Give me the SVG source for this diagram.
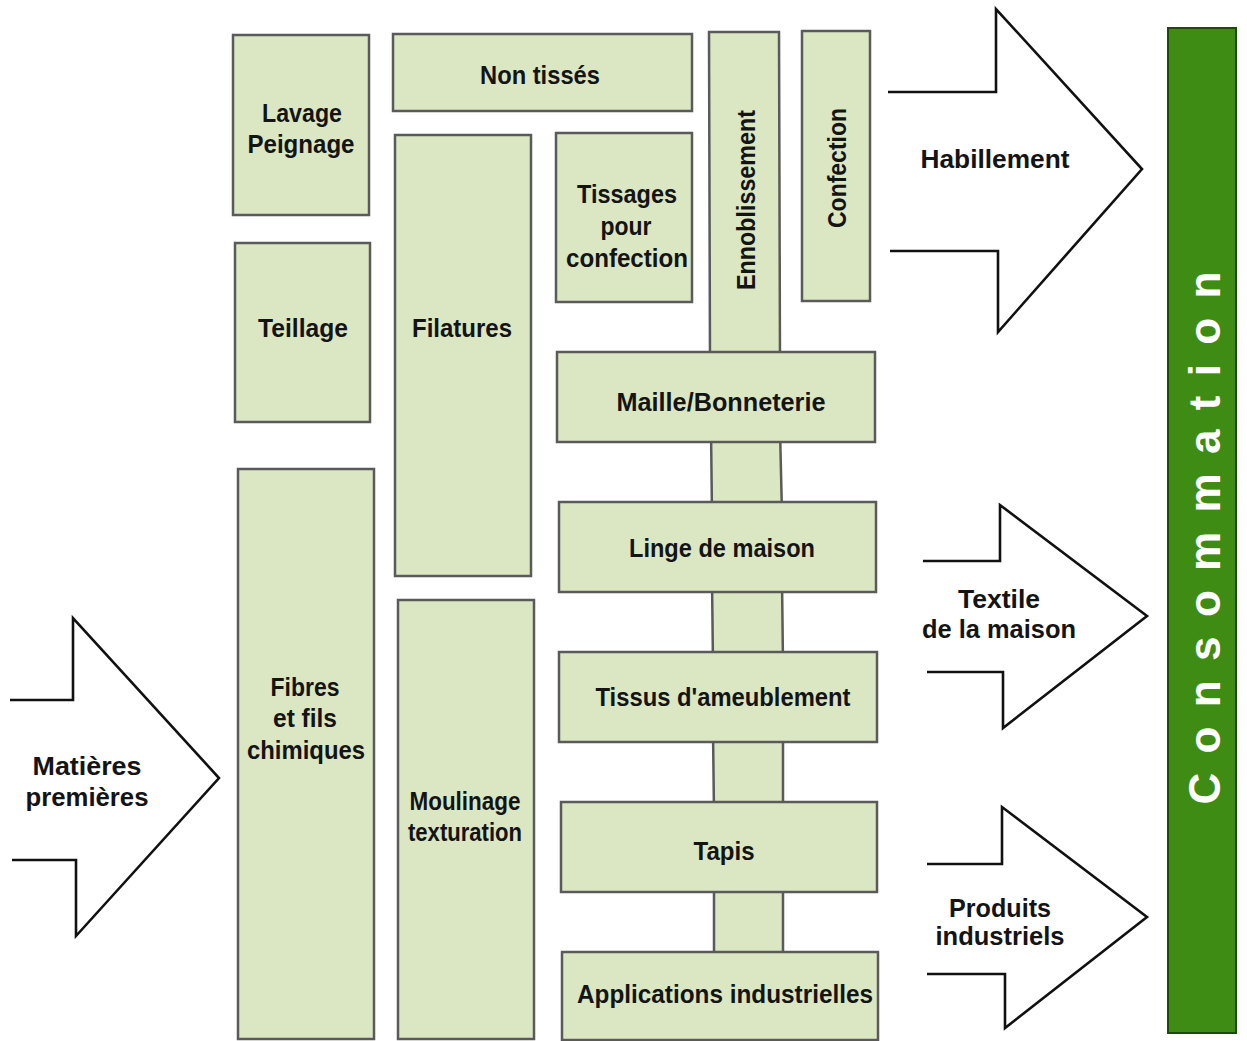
<svg xmlns="http://www.w3.org/2000/svg" width="1247" height="1041" viewBox="0 0 1247 1041">
<style>
.box{fill:#dbe7c2;stroke:#5a5a5a;stroke-width:2.5}
.arrow{fill:none;stroke:#111;stroke-width:2.6;stroke-linejoin:miter}
.t{font-family:"Liberation Sans",Arial,sans-serif;font-weight:bold;font-size:26px;fill:#141414;text-anchor:middle}
.c{font-family:"Liberation Sans",Arial,sans-serif;font-weight:bold;font-size:44px;fill:#ffffff;text-anchor:middle}
</style>
<rect width="1247" height="1041" fill="#ffffff"/>

<g id="connectors">
  <polygon class="box" points="711,430 780,430 782,514 712,514"/>
  <polygon class="box" points="712,580 782,580 783,664 713,664"/>
  <polygon class="box" points="713,730 783,730 783,814 714,814"/>
  <polygon class="box" points="714,880 783,880 783,964 714,964"/>
</g>

<g id="lavage-peignage">
  <rect class="box" x="233" y="35" width="136" height="180"/>
  <text class="t" x="302" y="122" textLength="80" lengthAdjust="spacingAndGlyphs">Lavage</text>
  <text class="t" x="301" y="153" textLength="107" lengthAdjust="spacingAndGlyphs">Peignage</text>
</g>
<g id="teillage">
  <rect class="box" x="235" y="243" width="135" height="179"/>
  <text class="t" x="303" y="337" textLength="90" lengthAdjust="spacingAndGlyphs">Teillage</text>
</g>
<g id="fibres">
  <rect class="box" x="238" y="469" width="136" height="570"/>
  <text class="t" x="305" y="696" textLength="69" lengthAdjust="spacingAndGlyphs">Fibres</text>
  <text class="t" x="305" y="727" textLength="64" lengthAdjust="spacingAndGlyphs">et fils</text>
  <text class="t" x="306" y="759" textLength="118" lengthAdjust="spacingAndGlyphs">chimiques</text>
</g>
<g id="non-tisses">
  <rect class="box" x="393" y="34" width="299" height="77"/>
  <text class="t" x="540" y="84" textLength="120" lengthAdjust="spacingAndGlyphs">Non tissés</text>
</g>
<g id="filatures">
  <rect class="box" x="395" y="135" width="136" height="441"/>
  <text class="t" x="462" y="337" textLength="100" lengthAdjust="spacingAndGlyphs">Filatures</text>
</g>
<g id="moulinage">
  <rect class="box" x="398" y="600" width="136" height="439"/>
  <text class="t" x="465" y="810" textLength="111" lengthAdjust="spacingAndGlyphs">Moulinage</text>
  <text class="t" x="465" y="841" textLength="114" lengthAdjust="spacingAndGlyphs">texturation</text>
</g>
<g id="tissages">
  <rect class="box" x="556" y="133" width="136" height="169"/>
  <text class="t" x="627" y="203" textLength="100" lengthAdjust="spacingAndGlyphs">Tissages</text>
  <text class="t" x="626" y="235" textLength="51" lengthAdjust="spacingAndGlyphs">pour</text>
  <text class="t" x="627" y="267" textLength="122" lengthAdjust="spacingAndGlyphs">confection</text>
</g>
<g id="ennoblissement">
  <polygon class="box" points="709,32 779,32 780,360 710,360"/>
  <text class="t" transform="translate(755,200) rotate(-90)" x="0" y="0" textLength="180" lengthAdjust="spacingAndGlyphs">Ennoblissement</text>
</g>
<g id="confection">
  <rect class="box" x="802" y="31" width="68" height="270"/>
  <text class="t" transform="translate(846,168) rotate(-90)" x="0" y="0" textLength="120" lengthAdjust="spacingAndGlyphs">Confection</text>
</g>
<g id="maille">
  <rect class="box" x="557" y="352" width="318" height="90"/>
  <text class="t" x="721" y="411" textLength="209" lengthAdjust="spacingAndGlyphs">Maille/Bonneterie</text>
</g>
<g id="linge">
  <rect class="box" x="559" y="502" width="317" height="90"/>
  <text class="t" x="722" y="557" textLength="186" lengthAdjust="spacingAndGlyphs">Linge de maison</text>
</g>
<g id="tissus">
  <rect class="box" x="559" y="652" width="318" height="90"/>
  <text class="t" x="723" y="706" textLength="255" lengthAdjust="spacingAndGlyphs">Tissus d'ameublement</text>
</g>
<g id="tapis">
  <rect class="box" x="561" y="802" width="316" height="90"/>
  <text class="t" x="724" y="860" textLength="61" lengthAdjust="spacingAndGlyphs">Tapis</text>
</g>
<g id="applications">
  <rect class="box" x="562" y="952" width="316" height="88"/>
  <text class="t" x="725" y="1003" textLength="296" lengthAdjust="spacingAndGlyphs">Applications industrielles</text>
</g>

<g id="matieres-premieres">
  <path class="arrow" d="M10,700 H73 V618 L219,778 L76,936 V860 H12"/>
  <text class="t" x="87" y="775" textLength="109" lengthAdjust="spacingAndGlyphs">Matières</text>
  <text class="t" x="87" y="806" textLength="123" lengthAdjust="spacingAndGlyphs">premières</text>
</g>
<g id="habillement">
  <path class="arrow" d="M888,92 H996 V9 L1142,169 L998,332 V251 H890"/>
  <text class="t" x="995" y="168" textLength="149" lengthAdjust="spacingAndGlyphs">Habillement</text>
</g>
<g id="textile-maison">
  <path class="arrow" d="M923,561 H1000 V505 L1147,616 L1003,728 V672 H927"/>
  <text class="t" x="999" y="608" textLength="82" lengthAdjust="spacingAndGlyphs">Textile</text>
  <text class="t" x="999" y="638" textLength="154" lengthAdjust="spacingAndGlyphs">de la maison</text>
</g>
<g id="produits-industriels">
  <path class="arrow" d="M927,864 H1002 V807 L1147,917 L1005,1028 V974 H927"/>
  <text class="t" x="1000" y="917" textLength="102" lengthAdjust="spacingAndGlyphs">Produits</text>
  <text class="t" x="1000" y="945" textLength="129" lengthAdjust="spacingAndGlyphs">industriels</text>
</g>

<g id="consommation">
  <rect x="1168" y="28" width="68" height="1005" fill="#3e8c14" stroke="#1d4a08" stroke-width="2"/>
  <text class="c" transform="translate(1203,538) rotate(-90)" x="0" y="17" textLength="533" lengthAdjust="spacing">Consommation</text>
</g>
</svg>
